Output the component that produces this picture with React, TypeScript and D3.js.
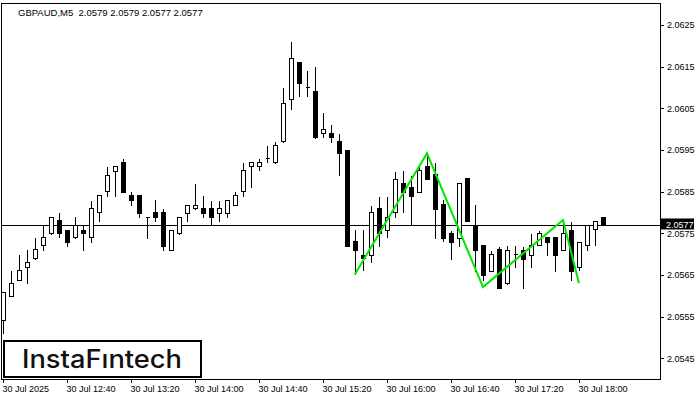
// @ts-nocheck
import React, { useEffect, useRef } from 'react';
import * as d3 from 'd3';

const symbol = "GBPAUD,M5";
const lastQuote = ["2.0579", "2.0579", "2.0577", "2.0577"];

// 5-minute bars from 30 Jul 12:00
const opens = [
  2.05541, 2.05600, 2.05639, 2.05670, 2.05690, 2.05721, 2.05750, 2.05781, 2.05759, 2.05740,
  2.05759, 2.05740, 2.05801, 2.05851, 2.05900, 2.05921, 2.05841, 2.05841, 2.05790, 2.05800,
  2.05800, 2.05711, 2.05750, 2.05799, 2.05810, 2.05810, 2.05810, 2.05799, 2.05799, 2.05819,
  2.05851, 2.05911, 2.05911, 2.05931, 2.05920, 2.05971, 2.06072, 2.06160, 2.06100, 2.06091,
  2.05990, 2.05990, 2.05971, 2.05951, 2.05731, 2.05699, 2.05699, 2.05810, 2.05759, 2.05800,
  2.05870, 2.05860, 2.05850, 2.05912, 2.05892, 2.05820, 2.05750, 2.05739, 2.05882, 2.05771,
  2.05722, 2.05660, 2.05712, 2.05630, 2.05700, 2.05711, 2.05699, 2.05722, 2.05740, 2.05740,
  2.05711, 2.05759, 2.05670, 2.05721, 2.05760, 2.05790
];
const highs = [
  2.05611, 2.05661, 2.05700, 2.05712, 2.05740, 2.05770, 2.05791, 2.05801, 2.05760, 2.05791,
  2.05772, 2.05831, 2.05842, 2.05911, 2.05912, 2.05931, 2.05851, 2.05842, 2.05791, 2.05832,
  2.05810, 2.05760, 2.05791, 2.05820, 2.05870, 2.05841, 2.05831, 2.05831, 2.05832, 2.05851,
  2.05921, 2.05921, 2.05930, 2.05962, 2.05971, 2.06101, 2.06212, 2.06161, 2.06142, 2.06152,
  2.06041, 2.06012, 2.05990, 2.05952, 2.05760, 2.05760, 2.05819, 2.05840, 2.05840, 2.05900,
  2.05901, 2.05890, 2.05916, 2.05940, 2.05922, 2.05832, 2.05759, 2.05871, 2.05883, 2.05820,
  2.05723, 2.05709, 2.05719, 2.05722, 2.05722, 2.05719, 2.05751, 2.05759, 2.05741, 2.05741,
  2.05780, 2.05780, 2.05731, 2.05771, 2.05781, 2.05790
];
const lows = [
  2.05510, 2.05599, 2.05638, 2.05630, 2.05689, 2.05711, 2.05749, 2.05740, 2.05720, 2.05739,
  2.05711, 2.05730, 2.05780, 2.05840, 2.05839, 2.05849, 2.05818, 2.05790, 2.05739, 2.05779,
  2.05710, 2.05710, 2.05749, 2.05779, 2.05809, 2.05790, 2.05772, 2.05780, 2.05790, 2.05818,
  2.05840, 2.05860, 2.05901, 2.05920, 2.05919, 2.05970, 2.06049, 2.06080, 2.06080, 2.05979,
  2.05980, 2.05970, 2.05891, 2.05719, 2.05652, 2.05661, 2.05680, 2.05720, 2.05740, 2.05790,
  2.05800, 2.05772, 2.05849, 2.05880, 2.05739, 2.05732, 2.05688, 2.05720, 2.05779, 2.05660,
  2.05638, 2.05659, 2.05618, 2.05629, 2.05668, 2.05619, 2.05669, 2.05721, 2.05699, 2.05660,
  2.05710, 2.05639, 2.05662, 2.05710, 2.05721, 2.05770
];
const closes = [
  2.05609, 2.05630, 2.05661, 2.05680, 2.05712, 2.05740, 2.05790, 2.05750, 2.05730, 2.05770,
  2.05750, 2.05810, 2.05841, 2.05891, 2.05911, 2.05850, 2.05830, 2.05799, 2.05790, 2.05790,
  2.05720, 2.05759, 2.05790, 2.05819, 2.05819, 2.05799, 2.05790, 2.05810, 2.05831, 2.05841,
  2.05901, 2.05920, 2.05920, 2.05931, 2.05961, 2.06062, 2.06170, 2.06110, 2.06100, 2.05980,
  2.06001, 2.05980, 2.05942, 2.05720, 2.05710, 2.05690, 2.05800, 2.05750, 2.05790, 2.05881,
  2.05850, 2.05840, 2.05902, 2.05881, 2.05808, 2.05739, 2.05730, 2.05870, 2.05780, 2.05710,
  2.05650, 2.05700, 2.05619, 2.05711, 2.05700, 2.05689, 2.05722, 2.05750, 2.05730, 2.05699,
  2.05750, 2.05660, 2.05730, 2.05770, 2.05780, 2.05770
];

const timeLabels = [
  "30 Jul 2025", "30 Jul 12:40", "30 Jul 13:20", "30 Jul 14:00", "30 Jul 14:40",
  "30 Jul 15:20", "30 Jul 16:00", "30 Jul 16:40", "30 Jul 17:20", "30 Jul 18:00"
];
const timeLabelBars = [0, 8, 16, 24, 32, 40, 48, 56, 64, 72];
const priceTicks = [2.0545, 2.0555, 2.0565, 2.0575, 2.0585, 2.0595, 2.0605, 2.0615, 2.0625];
const currentPrice = 2.0577;

// zigzag pattern drawn over the candles
const patternBars = [44, 53, 60, 70, 72];
const patternPrices = [2.05652, 2.05942, 2.05621, 2.05782, 2.0563];

const font = "'Liberation Sans', Arial, sans-serif";

const App = () => {
  const svgRef = useRef(null);

  useEffect(() => {
    document.body.style.margin = "0";
    const svg = d3.select(svgRef.current);
    svg.selectAll("*").remove();

    const plotRight = 660;
    const plotBottom = 379;

    const x = d3.scaleLinear().domain([0, 1]).range([3, 11]);
    const y = d3.scaleLinear().domain([2.0545, 2.0625]).range([358.3, 25]);
    const py = v => Math.round(y(v)) + 0.5;

    svg.append("rect").attr("width", 700).attr("height", 400).attr("fill", "#fff");

    // frame
    svg.append("rect")
      .attr("x", 1.5).attr("y", 3.5)
      .attr("width", plotRight - 1).attr("height", plotBottom - 3)
      .attr("fill", "none").attr("stroke", "#000").attr("stroke-width", 1);

    // title
    svg.append("text")
      .attr("x", 18).attr("y", 16)
      .attr("font-family", font).attr("font-size", 9.5)
      .attr("fill", "#000")
      .attr("xml:space", "preserve")
      .text(`${symbol}  ${lastQuote.join(" ")}`);

    // current price line
    svg.append("line")
      .attr("x1", 2).attr("x2", plotRight)
      .attr("y1", py(currentPrice)).attr("y2", py(currentPrice))
      .attr("stroke", "#000").attr("stroke-width", 1);

    // candles
    const bars = d3.range(opens.length);
    const gC = svg.append("g").attr("shape-rendering", "crispEdges");
    bars.forEach(i => {
      const cx = Math.round(x(i)) + 0.5;
      gC.append("line")
        .attr("x1", cx).attr("x2", cx)
        .attr("y1", py(highs[i])).attr("y2", py(lows[i]))
        .attr("stroke", "#000");
      const yo = py(opens[i]);
      const yc = py(closes[i]);
      const top = Math.min(yo, yc);
      const bot = Math.max(yo, yc);
      const bull = closes[i] > opens[i];
      gC.append("path")
        .attr("d", `M${cx - 2},${top}H${cx + 2}V${bot}H${cx - 2}Z`)
        .attr("fill", bull ? "#fff" : "#000")
        .attr("stroke", "#000");
    });

    // pattern zigzag
    const line = d3.line()
      .x((d, k) => x(patternBars[k]))
      .y(d => y(d));
    svg.append("path")
      .attr("d", line(patternPrices))
      .attr("fill", "none")
      .attr("stroke", "#00e600")
      .attr("stroke-width", 2);

    // right price axis
    const gY = svg.append("g").attr("font-family", font).attr("font-size", 9).attr("fill", "#000");
    priceTicks.forEach(p => {
      gY.append("line")
        .attr("x1", plotRight).attr("x2", plotRight + 4)
        .attr("y1", py(p)).attr("y2", py(p))
        .attr("stroke", "#000");
      gY.append("text")
        .attr("x", plotRight + 7).attr("y", y(p) + 3.3)
        .text(d3.format(".4f")(p));
    });

    // current price tag
    const cy = y(currentPrice);
    svg.append("rect")
      .attr("x", plotRight + 1).attr("y", cy - 6.5)
      .attr("width", 33).attr("height", 11)
      .attr("fill", "#000");
    svg.append("text")
      .attr("x", plotRight + 6).attr("y", cy + 3)
      .attr("font-family", font).attr("font-size", 9).attr("fill", "#fff")
      .text(d3.format(".4f")(currentPrice));

    // bottom time axis
    const gX = svg.append("g").attr("font-family", font).attr("font-size", 9).attr("fill", "#000");
    timeLabels.forEach((t, k) => {
      const tx = Math.round(x(timeLabelBars[k])) + 0.5;
      gX.append("line")
        .attr("x1", tx).attr("x2", tx)
        .attr("y1", plotBottom).attr("y2", plotBottom + 4)
        .attr("stroke", "#000");
      gX.append("text")
        .attr("x", tx - 1).attr("y", 392)
        .text(t);
    });

    // logo box
    svg.append("rect")
      .attr("x", 4).attr("y", 341)
      .attr("width", 197).attr("height", 36)
      .attr("fill", "#fff").attr("stroke", "#000").attr("stroke-width", 2);
    svg.append("text")
      .attr("x", 102).attr("y", 368)
      .attr("text-anchor", "middle")
      .attr("font-family", "Inter, 'Noto Sans', sans-serif")
      .attr("font-weight", 500)
      .attr("font-size", 25)
      .attr("textLength", 160)
      .attr("lengthAdjust", "spacingAndGlyphs")
      .attr("fill", "#111")
      .text("InstaFıntech");
  }, []);

  return <svg ref={svgRef} width={700} height={400} style={{ display: "block" }}></svg>;
};

export default App;
